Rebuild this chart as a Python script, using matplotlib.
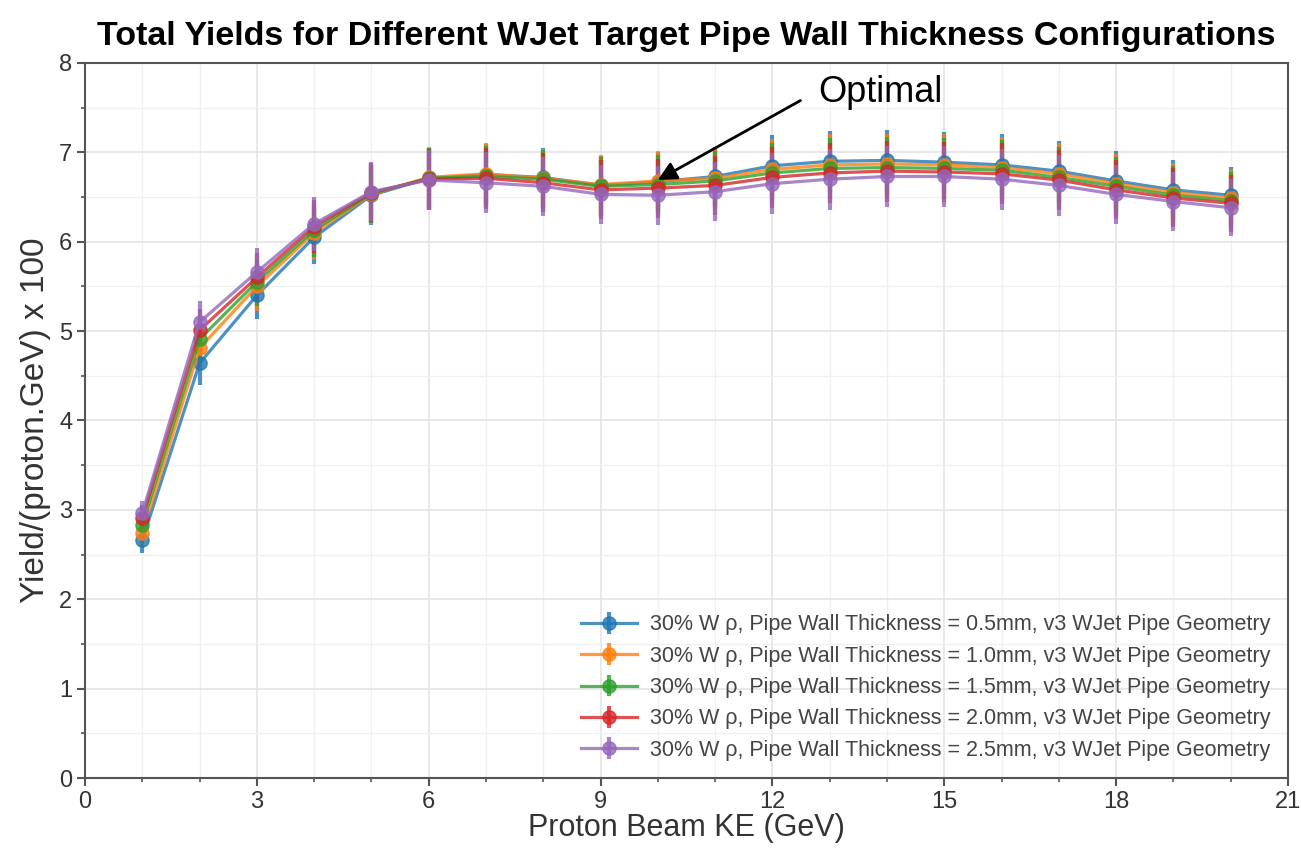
import matplotlib
matplotlib.use('Agg')
from matplotlib import pyplot as plt
from matplotlib.ticker import MultipleLocator

plt.rcParams['font.family'] = ['Liberation Sans', 'DejaVu Sans']

# Beam energies (GeV)
beam_ke = [1, 2, 3, 4, 5, 6, 7, 8, 9, 10, 11, 12, 13, 14, 15, 16, 17, 18, 19, 20]

# Yields (per proton.GeV x 100) for each pipe wall thickness
yield_05 = [2.66, 4.64, 5.40, 6.05, 6.52, 6.71, 6.75, 6.72, 6.63, 6.67, 6.73, 6.85, 6.90, 6.91, 6.89, 6.86, 6.79, 6.68, 6.58, 6.52]
yield_10 = [2.74, 4.81, 5.50, 6.10, 6.53, 6.72, 6.76, 6.71, 6.64, 6.68, 6.71, 6.81, 6.86, 6.87, 6.86, 6.83, 6.76, 6.65, 6.55, 6.49]
yield_15 = [2.83, 4.91, 5.55, 6.13, 6.54, 6.71, 6.73, 6.70, 6.62, 6.64, 6.68, 6.77, 6.82, 6.83, 6.82, 6.80, 6.72, 6.62, 6.52, 6.46]
yield_20 = [2.91, 5.01, 5.60, 6.17, 6.55, 6.70, 6.71, 6.66, 6.58, 6.60, 6.63, 6.72, 6.77, 6.79, 6.78, 6.76, 6.69, 6.58, 6.49, 6.43]
yield_25 = [2.96, 5.10, 5.66, 6.20, 6.56, 6.69, 6.66, 6.62, 6.53, 6.52, 6.56, 6.65, 6.70, 6.73, 6.73, 6.70, 6.63, 6.53, 6.45, 6.38]

# Error bar half-widths per beam energy (shared by all series)
yerr = [0.14, 0.24, 0.27, 0.30, 0.33, 0.34, 0.34, 0.33, 0.33, 0.33, 0.33, 0.34, 0.34, 0.34, 0.34, 0.34, 0.34, 0.33, 0.33, 0.32]

thickness = ['0.5', '1.0', '1.5', '2.0', '2.5']
series = [yield_05, yield_10, yield_15, yield_20, yield_25]
colors = ['#1f77b4', '#ff7f0e', '#2ca02c', '#d62728', '#9467bd']

fig = plt.figure(figsize=(13.01, 8.5), dpi=100)
ax = fig.add_axes([0.0653, 0.0847, 0.9247, 0.8412])

for t, ys, c in zip(thickness, series, colors):
    lbl = '30% W \u03c1, Pipe Wall Thickness = ' + t + 'mm, v3 WJet Pipe Geometry'
    ax.errorbar(beam_ke, ys, yerr=yerr, color=c, marker='o', markersize=9.5,
                linewidth=2.3, elinewidth=3, alpha=0.8, label=lbl)

ax.set_xlim(0, 21)
ax.set_ylim(0, 8)
ax.xaxis.set_major_locator(MultipleLocator(3))
ax.xaxis.set_minor_locator(MultipleLocator(1))
ax.yaxis.set_major_locator(MultipleLocator(1))
ax.yaxis.set_minor_locator(MultipleLocator(0.5))
ax.grid(which='major', color='#e4e4e4', linewidth=1.2)
ax.grid(which='minor', color='#f0f0f0', linewidth=1.0)
ax.set_axisbelow(True)

for sp in ax.spines.values():
    sp.set_color('#555555')
    sp.set_linewidth(1.5)
ax.tick_params(which='major', direction='out', length=6, width=1.5, color='#555555',
               labelsize=17, labelcolor='#333333', pad=3)
ax.tick_params(which='minor', direction='out', length=3, width=1.2, color='#555555')

ax.set_xlabel('Proton Beam KE (GeV)', fontsize=22, color='#333333', labelpad=0)
ax.set_ylabel('Yield/(proton.GeV) x 100', fontsize=24, color='#333333', labelpad=6)
ax.set_title('Total Yields for Different WJet Target Pipe Wall Thickness Configurations',
             fontsize=24.5, fontweight='bold', pad=13)

# annotation: arrow and label
ax.annotate('', xy=(10, 6.69), xytext=(12.49, 7.58),
            arrowprops=dict(arrowstyle='-|>', color='black', lw=2, mutation_scale=28,
                            shrinkA=0, shrinkB=0))
ax.text(12.8, 7.67, 'Optimal', fontsize=26, va='center', ha='left')

leg = ax.legend(loc='lower right', fontsize=15.5, frameon=False, handlelength=2.6,
                labelspacing=0.48, borderaxespad=0.4, handletextpad=0.6)
for txt in leg.get_texts():
    txt.set_color('#444444')

plt.savefig('out.png', dpi=100)
